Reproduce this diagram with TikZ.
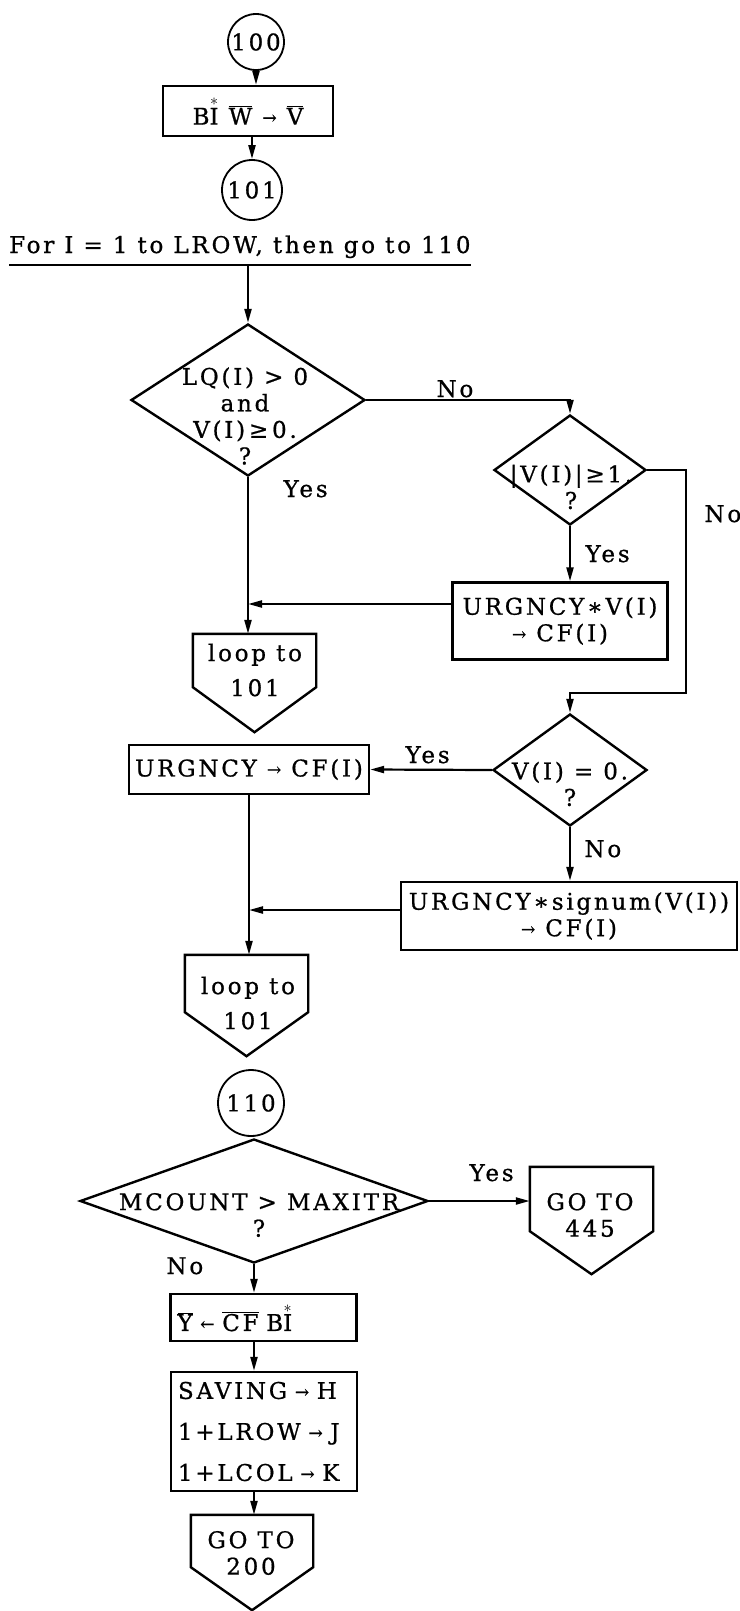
\RequirePackage{fix-cm}
\documentclass[tikz,border=0pt]{standalone}
\usepackage{fontspec}
\setmainfont{DejaVu Serif}[LetterSpace=12,FakeBold=0.8]
\usetikzlibrary{shapes.geometric,arrows.meta,calc}

\newcommand{\ovl}[1]{$\overline{\hbox{#1}}$}
\newcommand{\ra}{\raisebox{1pt}{\fontsize{17}{17}\selectfont →}}
\newcommand{\la}{\raisebox{1pt}{\fontsize{17}{17}\selectfont ←}}
% off-page connector: box node plus a point below it
\newcommand{\offpage}[2]{\draw[line width=2.4pt] (#1.north west) -- (#1.north east) -- (#1.south east) -- ([yshift=-#2]#1.south) -- (#1.south west) -- cycle;}

\tikzset{
  box/.style={draw, line width=2.4pt, rectangle, inner sep=0pt},
  decision/.style={draw, line width=2.4pt, diamond, inner sep=0pt},
  connector/.style={draw, line width=1.8pt, circle, inner sep=0pt},
  offbox/.style={rectangle, inner sep=0pt},
  flow/.style={line width=2.2pt, -{Triangle[length=14pt,width=7pt]}},
}

\begin{document}
\begin{tikzpicture}[x=1pt,y=-1pt,font=\fontsize{23}{26.5}\selectfont]
    \useasboundingbox (0,0) rectangle (739,1611);

    % entry 100
    \node[connector, minimum size=56pt] (c100) at (256,42) {100};
    \node[box, minimum width=170pt, minimum height=50pt] (b1) at (248,111) {B$\stackrel{*}{\hbox{I}}$ \ovl{W} \ra\ \ovl{V}};
    \node[connector, minimum size=60pt] (c101) at (252,190) {101};
    \draw[flow] (c100.south) -- (c100.south |- b1.north);
    \draw[flow] (c101 |- b1.south) -- (c101.north);

    % loop over the rows
    \node[anchor=base west, inner sep=0pt] (loophead) at (9,253) {For I = 1 to LROW, then go to 110};
    \coordinate (ul) at (248,265);
    \draw[line width=1.8pt] (loophead.south west |- ul) -- (loophead.south east |- ul);

    % first test
    \node[decision, minimum width=234pt, minimum height=152pt] (d1) at (248,400) {};
    \node[align=center] (d1q) at (245,416) {LQ(I) > 0\\and\\V(I)\,≥\,0.\\?};
    \draw[flow] (ul) -- (d1.north);
    \node[anchor=base] (no1) at (455,397) {No};
    \node[anchor=base west] (yes1) at (280,497) {Yes};

    % |V(I)| test
    \node[decision, minimum width=152pt, minimum height=110pt] (d2) at (570,470) {};
    \node[align=center] (d2q) at (571,487) {|V(I)|≥1.\\?};
    \draw[flow] (d1.east) -| (d2.north);
    \node[anchor=base west] (no2) at (701,522) {No};
    \node[anchor=base west] (yes2) at (582,562) {Yes};

    \node[box, minimum width=215pt, minimum height=77pt, align=center] (b2) at (560,621) {URGNCY∗V(I)\\\ra\ CF(I)};
    \draw[flow] (d2.south) -- (d2.south |- b2.north);

    \node[offbox, minimum width=123pt, minimum height=53pt] (p1) at (254.5,660.5) {};
    \offpage{p1}{45pt}
    \node[align=center, font=\fontsize{23}{35}\selectfont] (p1t) at (255,670) {loop to\\101};
    \draw[flow] (d1.south) -- (d1.south |- p1.north);
    \draw[flow] ([yshift=17pt]b2.west) -- ([yshift=17pt]b2.west -| d1.south);

    % V(I) = 0 test
    \node[decision, minimum width=154pt, minimum height=112pt] (d3) at (570,770) {};
    \node[align=center] (d3q) at (570,784) {V(I) = 0.\\?};
    \coordinate (r1) at (686,693);
    \draw[flow] (d2.east) -| (r1) -| (d3.north);

    \node[box, minimum width=240pt, minimum height=49pt] (b3) at (249,769.5) {URGNCY \ra\ CF(I)};
    \draw[flow] (d3.west) -- (b3.east);
    \node[anchor=base west] (yes3) at (402,763) {Yes};

    \node[box, minimum width=336pt, minimum height=68pt, align=center] (b4) at (569,916) {URGNCY∗signum(V(I))\\\ra\ CF(I)};
    \draw[flow] (d3.south) -- (d3.south |- b4.north);
    \node[anchor=base west] (no3) at (581,857) {No};

    \node[offbox, minimum width=123pt, minimum height=57pt] (p2) at (246.5,983.5) {};
    \offpage{p2}{44pt}
    \node[align=center, font=\fontsize{23}{35}\selectfont] (p2t) at (248,1003) {loop to\\101};
    \draw[flow] (b3.south) -- (b3.south |- p2.north);
    \draw[flow] ([yshift=6pt]b4.west) -- ([yshift=6pt]b4.west -| b3.south);

    % entry 110
    \node[connector, minimum size=66pt] (c110) at (251,1103) {110};
    \node[decision, minimum width=348pt, minimum height=124pt] (d4) at (254,1201) {};
    \node[align=center] (d4q) at (259,1215) {MCOUNT > MAXITR\\?};
    \node[anchor=base west] (no4) at (163,1274) {No};

    \node[offbox, minimum width=123pt, minimum height=64pt] (p4) at (591.5,1199) {};
    \offpage{p4}{43pt}
    \node[align=center] (p4t) at (590,1215) {GO TO\\445};
    \draw[flow] (d4.east) -- (d4.east -| p4.west);
    \node[anchor=base west] (yes4) at (466,1181) {Yes};

    \node[box, minimum height=47pt, text width=172pt, inner xsep=7pt, align=left] (b5) at (263.5,1317.5) {\ovl{Y} \la\ \ovl{CF} B$\stackrel{*}{\hbox{I}}$};
    \node[box, minimum height=119pt, text width=172pt, inner xsep=7pt, align=left, font=\fontsize{23}{41}\selectfont] (b6) at (264,1431.5) {SAVING \ra\ H\\1+LROW \ra\ J\\1+LCOL \ra\ K};

    \node[offbox, minimum width=122pt, minimum height=52pt] (p3) at (252,1541) {};
    \offpage{p3}{43pt}
    \node[align=center] (p3t) at (251,1553) {GO TO\\200};

    \draw[flow] (d4.south) -- (d4.south |- b5.north);
    \draw[flow] (b5.south -| d4.south) -- (b6.north -| d4.south);
    \draw[flow] (b6.south -| d4.south) -- (p3.north -| d4.south);

\end{tikzpicture}
\end{document}
